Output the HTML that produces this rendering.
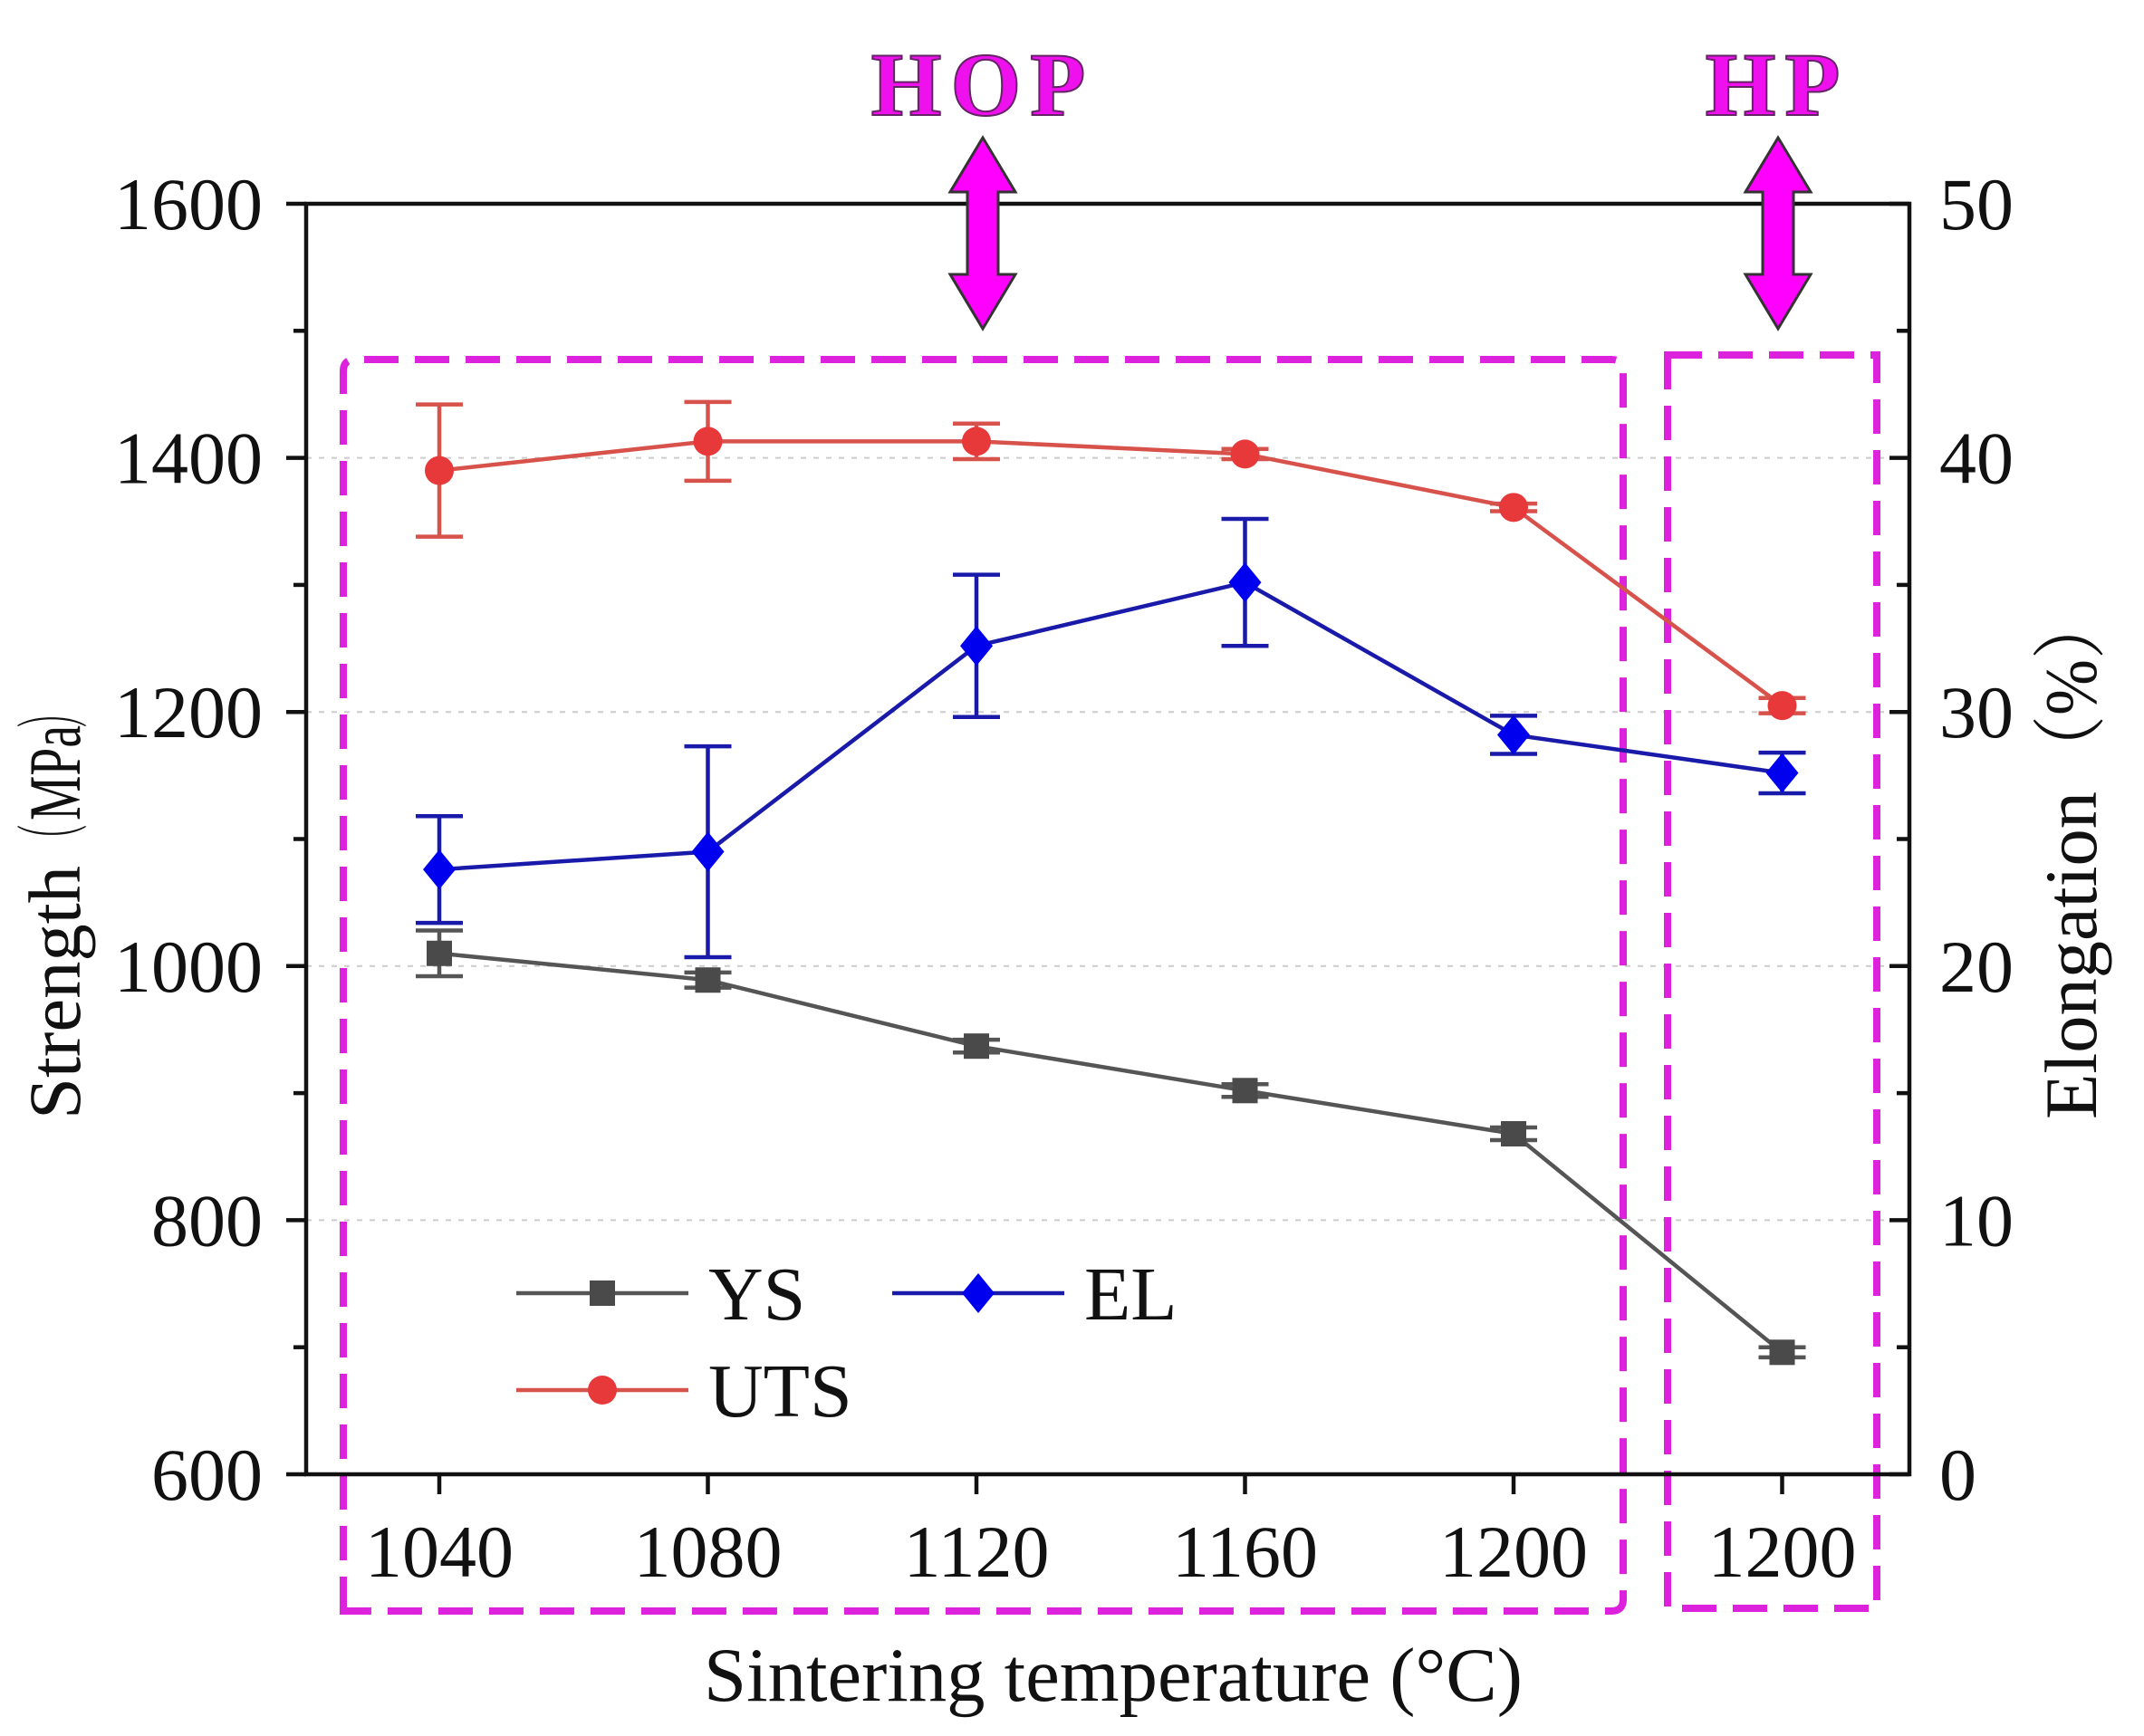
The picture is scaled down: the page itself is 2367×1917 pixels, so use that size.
<!DOCTYPE html>
<html><head><meta charset="utf-8"><style>
html,body{margin:0;padding:0;background:#fff;}
svg{display:block;font-family:"Liberation Serif","Noto Serif CJK SC",serif;}
</style></head><body>
<svg id="chart" width="2367" height="1917" viewBox="0 0 2367 1917" xmlns="http://www.w3.org/2000/svg">
<g id="grid"></g>
<g id="boxes"></g>
<g id="series"></g>
<g id="axes"></g>
<g id="annot"></g>
<g id="legend"></g>
</svg>
<script>
const categories = ["1040","1080","1120","1160","1200","1200"];
const ysValues = [1010, 989, 937, 902, 868, 696];
const ysErr = [18, 6, 5, 5, 5, 4];
const utsValues = [1390, 1413, 1413, 1403, 1361, 1205];
const utsErr = [52, 31, 14, 4, 3, 6];
const elValues = [23.8, 24.5, 32.6, 35.1, 29.1, 27.6];
const elErr = [2.1, 4.15, 2.8, 2.5, 0.75, 0.8];
const leftTicks = [600, 800, 1000, 1200, 1400, 1600];
const rightTicks = [0, 10, 20, 30, 40, 50];

const NS = "http://www.w3.org/2000/svg";
const L = 338, R = 2108, T = 225, B = 1628;
const xPos = i => 485 + i * 296.5;
const yL = v => B - (v - 600) / 1000 * (B - T);
const yR = v => B - v / 50 * (B - T);
function mk(tag, attrs, parent, text) {
  const e = document.createElementNS(NS, tag);
  for (const k in attrs) e.setAttribute(k, attrs[k]);
  if (text !== undefined) e.textContent = text;
  parent.appendChild(e);
  return e;
}
const grid = document.getElementById('grid');
const axes = document.getElementById('axes');
const series = document.getElementById('series');
const boxes = document.getElementById('boxes');
const annot = document.getElementById('annot');
const legend = document.getElementById('legend');

leftTicks.slice(1, -1).forEach(v => {
  const g = mk('line', {x1: L, x2: R, y1: yL(v), y2: yL(v), stroke: '#cccccc', 'stroke-width': 2, 'stroke-dasharray': '6 8'}, grid);
  
  
});

const frame = mk('rect', {x: L, y: T, width: R - L, height: B - T, fill: 'none', stroke: '#111', 'stroke-width': 4.5}, axes);



leftTicks.forEach((v, i) => {
  mk('line', {x1: L - 22, x2: L, y1: yL(v), y2: yL(v), stroke: '#111', 'stroke-width': 4.5}, axes);
  const t = mk('text', {x: 290, y: yL(v) + 28, 'text-anchor': 'end', 'font-size': 82, fill: '#111'}, axes, String(v));
  
  
  if (i < leftTicks.length - 1) {
    const m = (v + leftTicks[i + 1]) / 2;
    mk('line', {x1: L - 14, x2: L, y1: yL(m), y2: yL(m), stroke: '#111', 'stroke-width': 4.5}, axes);
  }
});
rightTicks.forEach((v, i) => {
  mk('line', {x1: R, x2: R - 22, y1: yR(v), y2: yR(v), stroke: '#111', 'stroke-width': 4.5}, axes);
  const t = mk('text', {x: 2141, y: yR(v) + 28, 'text-anchor': 'start', 'font-size': 82, fill: '#111'}, axes, String(v));
  
  
  if (i < rightTicks.length - 1) {
    const m = (v + rightTicks[i + 1]) / 2;
    mk('line', {x1: R, x2: R - 14, y1: yR(m), y2: yR(m), stroke: '#111', 'stroke-width': 4.5}, axes);
  }
});
categories.forEach((c, i) => {
  mk('line', {x1: xPos(i), x2: xPos(i), y1: B, y2: B + 22, stroke: '#111', 'stroke-width': 4.5}, axes);
  const t = mk('text', {x: xPos(i), y: 1741, 'text-anchor': 'middle', 'font-size': 82, fill: '#111'}, axes, c);
  
  
});
const xt = mk('text', {x: 1229, y: 1878, 'text-anchor': 'middle', 'font-size': 85, fill: '#111', textLength: 904, lengthAdjust: 'spacingAndGlyphs'}, axes, 'Sintering temperature (°C)');



const ylg = mk('g', {transform: 'translate(88,1236) rotate(-90)'}, axes);


mk('text', {x: 0, y: 0, 'font-size': 82, fill: '#111', textLength: 280, lengthAdjust: 'spacingAndGlyphs'}, ylg, 'Strength');
mk('text', {x: 292, y: 0, 'font-size': 82, fill: '#111', textLength: 34, lengthAdjust: 'spacingAndGlyphs'}, ylg, '（');
mk('text', {x: 330, y: 0, 'font-size': 82, fill: '#111', textLength: 105, lengthAdjust: 'spacingAndGlyphs'}, ylg, 'MPa');
mk('text', {x: 432, y: 0, 'font-size': 82, fill: '#111', textLength: 34, lengthAdjust: 'spacingAndGlyphs'}, ylg, '）');
const yrg = mk('g', {transform: 'translate(2314,1236) rotate(-90)'}, axes);


mk('text', {x: 0, y: 0, 'font-size': 82, fill: '#111', textLength: 362, lengthAdjust: 'spacingAndGlyphs'}, yrg, 'Elongation');
mk('text', {x: 372, y: 0, 'font-size': 82, fill: '#111', textLength: 210, lengthAdjust: 'spacingAndGlyphs'}, yrg, '（%）');

const b1 = mk('path', {d: 'M379 1779 L379 410 Q379 397 392 397 L1779 397 Q1792 397 1792 410 L1792 1766 Q1792 1779 1779 1779 Z', fill: 'none', stroke: '#dd22dd', 'stroke-width': 8, 'stroke-dasharray': '38 18'}, boxes);


const b2 = mk('rect', {x: 1841, y: 392, width: 231, height: 1384, fill: 'none', stroke: '#dd22dd', 'stroke-width': 8, 'stroke-dasharray': '38 18'}, boxes);



function drawSeries(name, vals, errs, yf, color, marker) {
  const g = mk('g', {}, series);
  
  
  const pts = vals.map((v, i) => xPos(i) + ',' + yf(v)).join(' ');
  mk('polyline', {points: pts, fill: 'none', stroke: color.line, 'stroke-width': 4.5}, g);
  vals.forEach((v, i) => {
    const x = xPos(i), y1 = yf(v + errs[i]), y2 = yf(v - errs[i]);
    mk('path', {d: `M${x} ${y1} L${x} ${y2} M${x-26} ${y1} L${x+26} ${y1} M${x-26} ${y2} L${x+26} ${y2}`, stroke: color.line, 'stroke-width': 4.5, fill: 'none'}, g);
    drawMarker(g, marker, x, yf(v), color.fill, name + '-point');
  });
}
function drawMarker(g, marker, x, y, fill, nm) {
  let m;
  if (marker === 'square') m = mk('rect', {x: x - 14, y: y - 14, width: 28, height: 28, fill: fill}, g);
  else if (marker === 'circle') m = mk('circle', {cx: x, cy: y, r: 16, fill: fill}, g);
  else m = mk('polygon', {points: `${x},${y-22} ${x+18},${y} ${x},${y+22} ${x-18},${y}`, fill: fill}, g);
  
  
}
const ysC = {line: '#555555', fill: '#4a4a4a'};
const utsC = {line: '#d8524c', fill: '#e8393a'};
const elC = {line: '#1a1aaa', fill: '#0000ee'};
drawSeries('uts', utsValues, utsErr, yL, utsC, 'circle');
drawSeries('ys', ysValues, ysErr, yL, ysC, 'square');
drawSeries('el', elValues, elErr, yR, elC, 'diamond');

function arrow(cx, nm) {
  const top = 152, bot = 363, hw = 36, sw = 17, hh = 60;
  const d = `M${cx} ${top} L${cx+hw} ${top+hh} L${cx+sw} ${top+hh} L${cx+sw} ${bot-hh} L${cx+hw} ${bot-hh} L${cx} ${bot} L${cx-hw} ${bot-hh} L${cx-sw} ${bot-hh} L${cx-sw} ${top+hh} L${cx-hw} ${top+hh} Z`;
  const a = mk('path', {d: d, fill: '#ff00ff', stroke: '#333', 'stroke-width': 3}, annot);
  
  
}
arrow(1085, 'hop-arrow');
arrow(1963, 'hp-arrow');
const hop = mk('text', {x: 1085, y: 127, 'text-anchor': 'middle', 'font-size': 100, 'font-weight': 'bold', fill: '#ee11ee', stroke: '#662266', 'stroke-width': 2, 'letter-spacing': 10}, annot, 'HOP');


const hp = mk('text', {x: 1962, y: 127, 'text-anchor': 'middle', 'font-size': 100, 'font-weight': 'bold', fill: '#ee11ee', stroke: '#662266', 'stroke-width': 2, 'letter-spacing': 10}, annot, 'HP');



function legendEntry(x, y, c, marker, label, nm) {
  const g = mk('g', {}, legend);
  
  
  mk('line', {x1: x, x2: x + 190, y1: y, y2: y, stroke: c.line, 'stroke-width': 4.5}, g);
  drawMarker(g, marker, x + 95, y, c.fill, nm + '-marker');
  const t = mk('text', {x: x + 212, y: y + 29, 'font-size': 84, fill: '#111'}, g, label);
  
  
}
legendEntry(570, 1428, ysC, 'square', 'YS', 'legend-ys');
legendEntry(985, 1428, elC, 'diamond', 'EL', 'legend-el');
legendEntry(570, 1535, utsC, 'circle', 'UTS', 'legend-uts');
</script>
</body></html>
